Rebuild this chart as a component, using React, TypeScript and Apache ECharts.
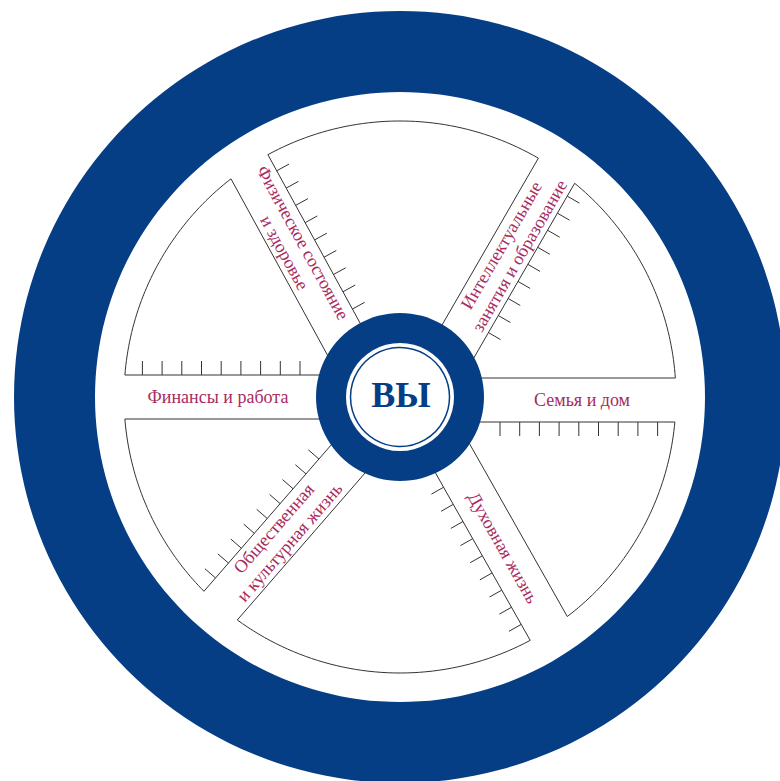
import React, { useEffect, useRef } from "react";
import * as echarts from "echarts";

// ---- content ----
const categories = [
  "Семья и дом",
  "Духовная жизнь",
  "Общественная\nи культурная жизнь",
  "Финансы и работа",
  "Физическое состояние\nи здоровье",
  "Интеллектуальные\nзанятия и образование",
];
const scaleLevels = [1, 2, 3, 4, 5, 6, 7, 8, 9];
const centerLabel = "ВЫ";

// ---- layout ----
const CX = 400;
const CY = 397;
const spokeAngles = [0, 60.5, 131, 180, 241.3, 300]; // degrees, clockwise from +x
const spokeShift = [3, -15.5, -1.5, 0, -21.5, 22.4];
const HALF = 22;
const ARC_R = 276;
const TICK_START = 100;
const TICK_STEP = 19.7;
const TICK_LEN = 14;
const LABEL_T = 182;
const BLUE = "#063E86";
const LINE = "#333333";
const TEXT = "#A82B5E";
const SERIF = '"Liberation Serif", "Times New Roman", serif';

type V = [number, number];
const dirOf = (i: number): V => {
  const a = (spokeAngles[i] * Math.PI) / 180;
  return [Math.cos(a), Math.sin(a)];
};
const normOf = (i: number): V => {
  const d = dirOf(i);
  return [-d[1], d[0]];
};
const linePoint = (i: number, off: number, t: number): V => {
  const d = dirOf(i);
  const n = normOf(i);
  return [CX + n[0] * off + d[0] * t, CY + n[1] * off + d[1] * t];
};
const cross = (a: V, b: V) => a[0] * b[1] - a[1] * b[0];

function renderItem(params: any, api: any) {
  const i = api.value(0) as number;
  const N = categories.length;
  const j = (i + 1) % N;
  const off1 = spokeShift[i] + HALF;
  const off2 = spokeShift[j] - HALF;
  const t1 = Math.sqrt(ARC_R * ARC_R - off1 * off1);
  const t2 = Math.sqrt(ARC_R * ARC_R - off2 * off2);
  const e1 = linePoint(i, off1, t1);
  const e2 = linePoint(j, off2, t2);
  const p1 = linePoint(i, off1, 0);
  const p2 = linePoint(j, off2, 0);
  const d1 = dirOf(i);
  const d2 = dirOf(j);
  const s = cross([p2[0] - p1[0], p2[1] - p1[1]], d2) / cross(d1, d2);
  const X: V = [p1[0] + d1[0] * s, p1[1] + d1[1] * s];
  let a1 = Math.atan2(e1[1] - CY, e1[0] - CX);
  let a2 = Math.atan2(e2[1] - CY, e2[0] - CX);
  while (a2 < a1) a2 += Math.PI * 2;
  const pts: V[] = [X, e1];
  const steps = 48;
  for (let k = 1; k < steps; k++) {
    const a = a1 + ((a2 - a1) * k) / steps;
    pts.push([CX + ARC_R * Math.cos(a), CY + ARC_R * Math.sin(a)]);
  }
  pts.push(e2);

  const children: any[] = [
    {
      type: "polygon",
      shape: { points: pts },
      style: { fill: "#ffffff", stroke: LINE, lineWidth: 1 },
    },
  ];
  const n = normOf(i);
  scaleLevels.forEach((lv) => {
    const t = TICK_START + TICK_STEP * (lv - 1);
    const q = linePoint(i, off1, t);
    children.push({
      type: "line",
      shape: { x1: q[0], y1: q[1], x2: q[0] + n[0] * TICK_LEN, y2: q[1] + n[1] * TICK_LEN },
      style: { stroke: LINE, lineWidth: 1 },
    });
  });
  const d = dirOf(i);
  const r: V = d[0] >= 0 ? d : [-d[0], -d[1]];
  const rot = -Math.atan2(r[1], r[0]);
  const lp = linePoint(i, spokeShift[i], LABEL_T);
  children.push({
    type: "text",
    x: lp[0],
    y: lp[1],
    rotation: rot,
    style: {
      text: categories[i],
      fill: TEXT,
      font: `18px ${SERIF}`,
      align: "center",
      verticalAlign: "middle",
      lineHeight: 21,
    },
  });
  return { type: "group", children };
}

export default function App() {
  const ref = useRef<HTMLDivElement>(null);
  useEffect(() => {
    if (!ref.current) return;
    const chart = echarts.init(ref.current, null, { renderer: "svg" });
    chart.setOption({
      animation: false,
      backgroundColor: "#ffffff",
      graphic: [
        {
          type: "ring",
          z: 0,
          silent: true,
          shape: { cx: CX, cy: CY, r: 386, r0: 305 },
          style: { fill: BLUE },
        },
        {
          type: "circle",
          z: 100,
          silent: true,
          shape: { cx: CX, cy: CY, r: 84 },
          style: { fill: BLUE },
        },
        {
          type: "circle",
          z: 101,
          silent: true,
          shape: { cx: CX, cy: CY, r: 54 },
          style: { fill: "#ffffff" },
        },
        {
          type: "circle",
          z: 102,
          silent: true,
          shape: { cx: CX, cy: CY, r: 49.5 },
          style: { fill: "none", stroke: BLUE, lineWidth: 1.5 },
        },
        {
          type: "text",
          z: 103,
          silent: true,
          x: CX + 1,
          y: CY - 2,
          style: {
            text: centerLabel,
            fill: BLUE,
            font: `bold 36px ${SERIF}`,
            align: "center",
            verticalAlign: "middle",
          },
        },
      ],
      series: [
        {
          type: "custom",
          coordinateSystem: "none",
          silent: true,
          z: 5,
          data: categories.map((name, i) => ({ name, value: [i] })),
          renderItem,
        },
      ],
    });
    return () => chart.dispose();
  }, []);
  return (
    <div
      ref={ref}
      style={{ position: "fixed", left: 0, top: 0, width: 780, height: 781, background: "#fff" }}
    />
  );
}
